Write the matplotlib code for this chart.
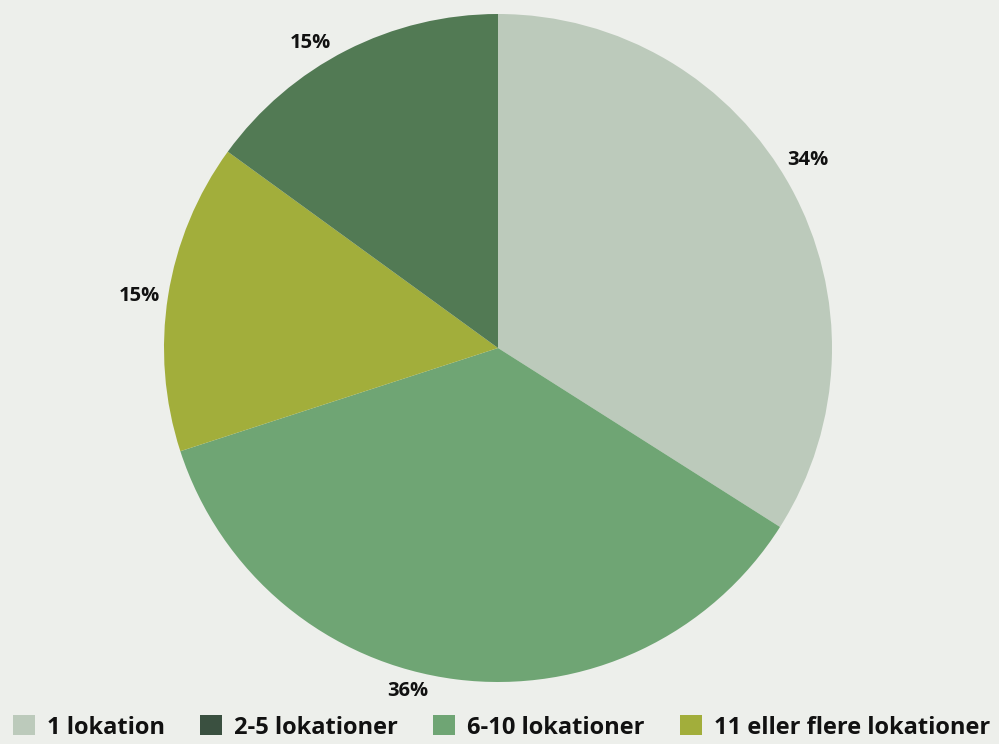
import numpy as np
import matplotlib.pyplot as plt
from matplotlib.patches import Patch

plt.rcParams['font.family'] = ['Open Sans', 'DejaVu Sans']

# slices in drawing order (clockwise from 12 o'clock)
slice_names = ['1 lokation', '6-10 lokationer', '11 eller flere lokationer', '2-5 lokationer']
slice_values = [34, 36, 15, 15]
slice_colors = ['#bccabb', '#6fa574', '#a2ae3b', '#527a54']

# legend order and swatch colours
legend_names = ['1 lokation', '2-5 lokationer', '6-10 lokationer', '11 eller flere lokationer']
legend_colors = ['#bccabb', '#3a5040', '#6fa574', '#a2ae3b']

# small per-label nudges (degrees, radius) for the percentage labels
label_nudge = [2.5, -7.5, 0.7, 4.6]
label_radius = [1.084, 1.063, 1.084, 1.072]

bg = '#edefeb'
fig = plt.figure(figsize=(9.99, 7.44), dpi=100, facecolor=bg)
ax = fig.add_axes([164 / 999, 62 / 744, 668 / 999, 668 / 744])
ax.set_facecolor(bg)

wedges, _ = ax.pie(slice_values, colors=slice_colors, startangle=90,
                   counterclock=False, radius=1,
                   wedgeprops=dict(linewidth=0))
ax.set_xlim(-1, 1)
ax.set_ylim(-1, 1)
ax.set_aspect('equal')
ax.set_xticks([])
ax.set_yticks([])
for s in ax.spines.values():
    s.set_color('#f4f6f2')
    s.set_linewidth(1)

for w, v, d, r in zip(wedges, slice_values, label_nudge, label_radius):
    mid = np.deg2rad((w.theta1 + w.theta2) / 2 + d)
    ax.text(r * np.cos(mid), r * np.sin(mid), f'{v}%', ha='center', va='center',
            fontsize=14.5, fontweight='bold', color='#111111', clip_on=False)

handles = [Patch(facecolor=c, edgecolor='none') for c in legend_colors]
fig.legend(handles, legend_names, loc='lower left', bbox_to_anchor=(0.013, 0.006),
           ncol=4, frameon=False, prop=dict(size=17, weight='bold'),
           handlelength=0.93, handleheight=0.93, handletextpad=0.5,
           columnspacing=1.5, borderaxespad=0, borderpad=0, labelcolor='#111111')

fig.savefig('out.png', dpi=100, facecolor=bg)
